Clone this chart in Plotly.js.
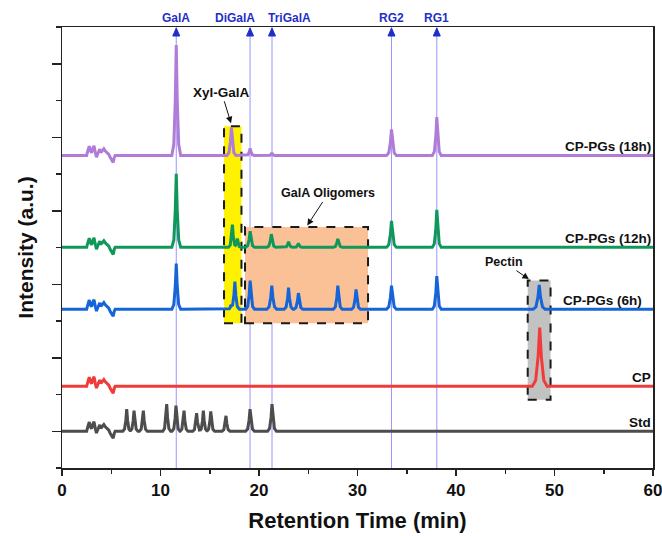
<!DOCTYPE html>
<html><head><meta charset="utf-8">
<script src="https://cdn.plot.ly/plotly-3.0.1.min.js"></script>
<style>html,body{margin:0;padding:0;background:#fff}#chart{width:662px;height:536px}</style>
</head><body><div id="chart"></div>
<script>
// ---- data ----
const seriesNames = ['Std', 'CP', 'CP-PGs (6h)', 'CP-PGs (12h)', 'CP-PGs (18h)'];
const seriesBaselines = [0.5, 1.112, 2.16, 3.002, 4.253];

// early-eluting noise (min, offset in a.u.), same in every run
const noiseTimes   = [2.5, 2.62, 2.77, 2.9, 3.0, 3.12, 3.25, 3.38, 3.5, 3.65, 3.84, 3.95, 4.1, 4.25, 4.4, 4.55, 4.75, 4.9, 5.05, 5.2, 5.3, 5.4];
const noiseOffsets = [0, 0.06, 0.125, 0.06, 0.035, 0.09, 0.13, 0.04, -0.025, 0.03, 0.085, 0.04, 0.065, 0.09, 0.06, 0.04, 0.015, -0.03, -0.06, -0.095, -0.03, 0];

const stdPeakTimes   = [6.57, 7.31, 8.26, 10.63, 11.57, 12.39, 13.67, 14.35, 15.1, 16.65, 19.09, 21.32];
const stdPeakHeights = [0.30, 0.28, 0.28, 0.37, 0.35, 0.28, 0.245, 0.28, 0.27, 0.21, 0.30, 0.37];
const stdPeakWidths  = [0.4, 0.4, 0.4, 0.4, 0.4, 0.4, 0.4, 0.4, 0.4, 0.4, 0.45, 0.45];

const cpPeakTimes   = [48.5];
const cpPeakHeights = [0.80];
const cpPeakWidths  = [0.75];

const h6PeakTimes   = [11.6, 17.15, 17.55, 19.1, 21.3, 23.0, 24.0, 28.0, 29.85, 33.45, 38.05, 48.45];
const h6PeakHeights = [0.62, 0.05, 0.375, 0.39, 0.32, 0.295, 0.22, 0.32, 0.27, 0.32, 0.45, 0.33];
const h6PeakWidths  = [0.45, 0.3, 0.45, 0.45, 0.5, 0.45, 0.45, 0.45, 0.45, 0.5, 0.45, 0.6];

const h12PeakTimes   = [11.6, 17.3, 17.8, 19.1, 21.25, 23.0, 24.0, 28.0, 33.45, 38.05];
const h12PeakHeights = [1.0, 0.31, 0.12, 0.22, 0.18, 0.077, 0.055, 0.115, 0.36, 0.51];
const h12PeakWidths  = [0.45, 0.4, 0.35, 0.45, 0.45, 0.4, 0.4, 0.45, 0.5, 0.45];

const h18PeakTimes   = [11.6, 17.2, 19.1, 21.3, 33.45, 38.05];
const h18PeakHeights = [1.50, 0.38, 0.095, 0.035, 0.355, 0.52];
const h18PeakWidths  = [0.45, 0.45, 0.4, 0.3, 0.5, 0.45];

const markerNames = ['GalA', 'DiGalA', 'TriGalA', 'RG2', 'RG1'];
const markerTimes = [11.6, 19.09, 21.32, 33.45, 38.05];

const xTickValues = [0, 10, 20, 30, 40, 50, 60];

// ---- styles ----
const seriesColors = ['#4d4d4d', '#f03b3b', '#1565d8', '#10975a', '#b07cd8'];
const peaks = [
  [stdPeakTimes, stdPeakHeights, stdPeakWidths],
  [cpPeakTimes, cpPeakHeights, cpPeakWidths],
  [h6PeakTimes, h6PeakHeights, h6PeakWidths],
  [h12PeakTimes, h12PeakHeights, h12PeakWidths],
  [h18PeakTimes, h18PeakHeights, h18PeakWidths]
];
const FONT = 'Liberation Sans, Arial, Helvetica, sans-serif';
const markerColor = '#1e2fc8';

function interp(xs, ys, x) {
  if (x <= xs[0] || x >= xs[xs.length - 1]) return 0;
  for (let i = 1; i < xs.length; i++) {
    if (x <= xs[i]) {
      const f = (x - xs[i - 1]) / (xs[i] - xs[i - 1]);
      return ys[i - 1] + f * (ys[i] - ys[i - 1]);
    }
  }
  return 0;
}
const shapeOff = [-1, -0.55, -0.22, 0, 0.22, 0.55, 1];
const shapeFrac = [0, 0.1, 0.5, 1, 0.5, 0.1, 0];

function buildSeries(base, times, heights, widths) {
  const bp = new Set([0, 60]);
  noiseTimes.forEach(t => bp.add(t));
  times.forEach((t, i) => shapeOff.forEach(o => bp.add(+(t + o * widths[i]).toFixed(4))));
  const xs = Array.from(bp).sort((a, b) => a - b);
  const ys = xs.map(x => {
    let v = base + interp(noiseTimes, noiseOffsets, x);
    times.forEach((t, i) => {
      const px = shapeOff.map(o => t + o * widths[i]);
      const py = shapeFrac.map(f => f * heights[i]);
      v += interp(px, py, x);
    });
    return v;
  });
  return { xs, ys };
}

const traces = seriesNames.map((name, k) => {
  const s = buildSeries(seriesBaselines[k], peaks[k][0], peaks[k][1], peaks[k][2]);
  return {
    type: 'scatter', mode: 'lines', name: name, x: s.xs, y: s.ys,
    line: { color: seriesColors[k], width: 3 }, hoverinfo: 'skip', cliponaxis: true
  };
});

const shapes = [];
// highlight boxes
const boxDash = { color: '#1a1a1a', width: 2, dash: 'dash' };
shapes.push({ type: 'rect', xref: 'x', yref: 'y', x0: 16.45, x1: 18.22, y0: 1.97, y1: 4.65, fillcolor: '#fff200', line: boxDash, layer: 'below' });
shapes.push({ type: 'rect', xref: 'x', yref: 'y', x0: 18.58, x1: 31.07, y0: 1.97, y1: 3.28, fillcolor: '#fbc196', line: boxDash, layer: 'below' });
shapes.push({ type: 'rect', xref: 'x', yref: 'y', x0: 47.28, x1: 49.6, y0: 0.93, y1: 2.55, fillcolor: '#c2c2c2', line: boxDash, layer: 'below' });
// marker lines and arrowheads
markerTimes.forEach(t => {
  shapes.push({ type: 'line', xref: 'x', yref: 'paper', x0: t, x1: t, y0: 0, y1: 1, line: { color: 'rgba(80,80,255,0.6)', width: 1 }, layer: 'below' });
  shapes.push({ type: 'path', xref: 'x', yref: 'paper', xsizemode: 'pixel', ysizemode: 'pixel', xanchor: t, yanchor: 1,
    path: 'M -3.5 -9 L 0 -1 L 3.5 -9 Z', fillcolor: markerColor, line: { color: markerColor, width: 1 }, layer: 'above' });
});

const annotations = [];
const markerShift = [0, -15.4, 17, 0, 0];
markerNames.forEach((n, i) => {
  annotations.push({ text: n, xref: 'x', yref: 'paper', x: markerTimes[i], y: 1, yanchor: 'bottom', xanchor: 'center',
    xshift: markerShift[i], yshift: 0, showarrow: false, font: { family: FONT, size: 12, color: markerColor, weight: 'bold' } });
});
const labelShift = [0, 0, -9, 0, 0];
seriesNames.forEach((n, k) => {
  annotations.push({ text: n, xref: 'paper', yref: 'y', x: 1, y: seriesBaselines[k], xanchor: 'right', yanchor: 'bottom',
    xshift: labelShift[k], yshift: -1, showarrow: false, font: { family: FONT, size: 13.5, color: '#111', weight: 'bold' } });
});
const callFont = { family: FONT, size: 12.5, color: '#111', weight: 'bold' };
annotations.push({ text: 'Xyl-GalA', xref: 'x', yref: 'y', x: 17.16, y: 4.69, ax: -9.5, ay: -31, axref: 'pixel', ayref: 'pixel',
  showarrow: true, arrowhead: 2, arrowsize: 1.3, arrowwidth: 1, arrowcolor: '#111',
  font: { family: FONT, size: 13.5, color: '#111', weight: 'bold' } });
annotations.push({ text: 'GalA Oligomers', xref: 'x', yref: 'y', x: 24.9, y: 3.3, ax: 21, ay: -32, axref: 'pixel', ayref: 'pixel',
  showarrow: true, arrowhead: 2, arrowsize: 1.3, arrowwidth: 1, arrowcolor: '#111', font: callFont });
annotations.push({ text: 'Pectin', xref: 'x', yref: 'y', x: 47.4, y: 2.57, ax: -25, ay: -17, axref: 'pixel', ayref: 'pixel',
  showarrow: true, arrowhead: 2, arrowsize: 1.3, arrowwidth: 1, arrowcolor: '#111', font: callFont });

const layout = {
  width: 662, height: 536,
  margin: { l: 62, r: 9, t: 27, b: 68, pad: 0 },
  paper_bgcolor: '#fff', plot_bgcolor: '#fff',
  showlegend: false,
  font: { family: FONT, color: '#111' },
  xaxis: {
    range: [0, 60], tickvals: xTickValues, ticktext: xTickValues.map(String),
    ticklabeloverflow: 'allow',
    ticks: 'outside', ticklen: 6, tickwidth: 1.5, tickcolor: '#222',
    minor: { dtick: 5, tick0: 0, ticks: 'outside', ticklen: 4, tickwidth: 1.5, tickcolor: '#222' },
    showline: true, linecolor: '#222', linewidth: 1.5, mirror: true,
    showgrid: false, zeroline: false,
    tickfont: { family: FONT, size: 17, color: '#111', weight: 'bold' },
    title: { text: 'Retention Time (min)', font: { family: FONT, size: 22, color: '#111', weight: 'bold' }, standoff: 13 }
  },
  yaxis: {
    range: [0, 6], tick0: 0.5, dtick: 1, showticklabels: false,
    ticks: 'outside', ticklen: 9, tickwidth: 1.5, tickcolor: '#222',
    minor: { dtick: 0.5, tick0: 0, ticks: 'outside', ticklen: 5, tickwidth: 1.5, tickcolor: '#222' },
    showline: true, linecolor: '#222', linewidth: 1.5, mirror: true,
    showgrid: false, zeroline: false,
    title: { text: 'Intensity (a.u.)', font: { family: FONT, size: 21, color: '#111', weight: 'bold' }, standoff: 12 }
  },
  shapes: shapes,
  annotations: annotations
};

Plotly.newPlot('chart', traces, layout, { displayModeBar: false, staticPlot: true });
</script>
</body></html>
